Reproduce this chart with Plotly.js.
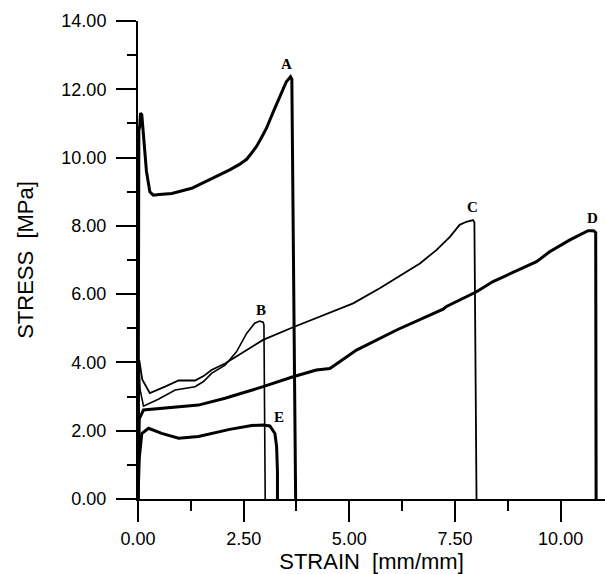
<!DOCTYPE html>
<html>
<head>
<meta charset="utf-8">
<script src="https://cdn.plot.ly/plotly-3.0.1.min.js"></script>
<style>html,body{margin:0;padding:0;background:#fff;}#chart{width:605px;height:574px;}</style>
</head>
<body>
<div id="chart"></div>
<script>
// Curve A
var aStrain = [0, 0.02, 0.04, 0.06, 0.09, 0.13, 0.2, 0.28, 0.36, 0.5, 0.8, 1.27, 1.86, 2.17, 2.4, 2.57, 2.68, 2.8, 2.92, 3.04, 3.2, 3.35, 3.51, 3.61, 3.64, 3.73];
var aStress = [0, 10.8, 10.9, 11.3, 11.25, 10.6, 9.6, 9.0, 8.9, 8.92, 8.95, 9.10, 9.44, 9.64, 9.8, 9.95, 10.12, 10.32, 10.58, 10.86, 11.34, 11.78, 12.22, 12.37, 12.3, 0];
// Curve B
var bStrain = [0, 0.02, 0.05, 0.13, 0.48, 0.88, 1.35, 1.55, 1.74, 2.06, 2.33, 2.57, 2.76, 2.88, 2.96, 2.98, 3.01];
var bStress = [0, 4.0, 3.2, 2.72, 2.92, 3.19, 3.29, 3.44, 3.68, 3.92, 4.31, 4.85, 5.15, 5.21, 5.18, 5.1, 0];
// Curve C
var cStrain = [0, 0.03, 0.1, 0.28, 0.64, 0.96, 1.35, 1.55, 1.74, 2.06, 2.45, 2.96, 3.67, 4.30, 4.54, 5.09, 5.72, 6.35, 6.67, 7.06, 7.38, 7.61, 7.77, 7.93, 7.96, 8.01];
var cStress = [0, 4.07, 3.5, 3.10, 3.29, 3.47, 3.47, 3.60, 3.78, 3.97, 4.27, 4.66, 5.03, 5.34, 5.44, 5.73, 6.17, 6.66, 6.90, 7.29, 7.68, 8.03, 8.12, 8.17, 8.1, 0];
// Curve D
var dStrain = [0, 0.03, 0.13, 0.64, 1.43, 2.06, 2.69, 2.96, 3.67, 4.22, 4.54, 5.17, 6.12, 7.22, 7.30, 8.01, 8.40, 9.43, 9.74, 10.22, 10.65, 10.78, 10.83, 10.84];
var dStress = [0, 2.35, 2.61, 2.66, 2.75, 2.95, 3.18, 3.29, 3.58, 3.78, 3.82, 4.36, 4.95, 5.56, 5.64, 6.07, 6.37, 6.95, 7.24, 7.59, 7.86, 7.86, 7.80, 0];
// Curve E
var eStrain = [0, 0.03, 0.09, 0.25, 0.56, 0.96, 1.43, 2.06, 2.17, 2.69, 2.96, 3.12, 3.24, 3.28, 3.30, 3.30];
var eStress = [0, 1.2, 1.92, 2.07, 1.92, 1.78, 1.83, 2.02, 2.04, 2.15, 2.17, 2.14, 1.92, 1.53, 0.8, 0];

// Curve labels and their anchor points (data coordinates)
var labelText = ['A', 'B', 'C', 'D', 'E'];
var labelStrain = [3.51, 2.90, 7.91, 10.76, 3.33];
var labelStress = [12.74, 5.54, 8.56, 8.23, 2.40];

// Tick values
var xTicks = [0, 2.5, 5, 7.5, 10];
var yTicks = [0, 2, 4, 6, 8, 10, 12, 14];

function curve(x, y, w) {
  return {x: x, y: y, type: 'scatter', mode: 'lines', line: {color: '#000', width: w, shape: 'linear'}, hoverinfo: 'skip', showlegend: false};
}

var traces = [
  curve(aStrain, aStress, 3),
  curve(bStrain, bStress, 1.6),
  curve(cStrain, cStress, 1.8),
  curve(dStrain, dStress, 3),
  curve(eStrain, eStress, 3)
];

var annotations = labelText.map(function (t, i) {
  return {x: labelStrain[i], y: labelStress[i], xref: 'x', yref: 'y', text: '<b>' + t + '</b>', showarrow: false,
    font: {family: 'Liberation Serif, Times New Roman, serif', size: 15, color: '#000'}};
});

var tickFont = {family: 'Liberation Sans, Arial, sans-serif', size: 18, color: '#000'};
var titleFont = {family: 'Liberation Sans, Arial, sans-serif', size: 22, color: '#000'};

var layout = {
  width: 605, height: 574,
  margin: {l: 138, r: 0, t: 21, b: 75, pad: 0},
  paper_bgcolor: '#fff', plot_bgcolor: '#fff',
  showlegend: false,
  xaxis: {
    range: [0, 11.05], tickvals: xTicks, ticktext: xTicks.map(function (v) { return v.toFixed(2); }),
    showgrid: false, zeroline: false, showline: true, linecolor: '#000', linewidth: 2,
    ticks: 'outside', ticklen: 21, tickwidth: 2, tickcolor: '#000', tickfont: tickFont,
    ticklabelstandoff: 1,
    minor: {dtick: 1.25, tick0: 0, ticks: 'outside', ticklen: 10, tickwidth: 2, tickcolor: '#000', showgrid: false},
    title: {text: 'STRAIN\u00a0 [mm/mm]', font: titleFont, standoff: 9},
    automargin: false, fixedrange: true
  },
  yaxis: {
    range: [0, 14], tickvals: yTicks, ticktext: yTicks.map(function (v) { return v.toFixed(2); }),
    showgrid: false, zeroline: false, showline: true, linecolor: '#000', linewidth: 2,
    ticks: 'outside', ticklen: 20, tickwidth: 2, tickcolor: '#000', tickfont: tickFont,
    ticklabelstandoff: 6,
    minor: {dtick: 1, tick0: 0, ticks: 'outside', ticklen: 9, tickwidth: 2, tickcolor: '#000', showgrid: false},
    title: {text: 'STRESS\u00a0 [MPa]', font: titleFont, standoff: 22},
    automargin: false, fixedrange: true
  },
  annotations: annotations
};

Plotly.newPlot('chart', traces, layout, {displayModeBar: false, staticPlot: true});
</script>
</body>
</html>
